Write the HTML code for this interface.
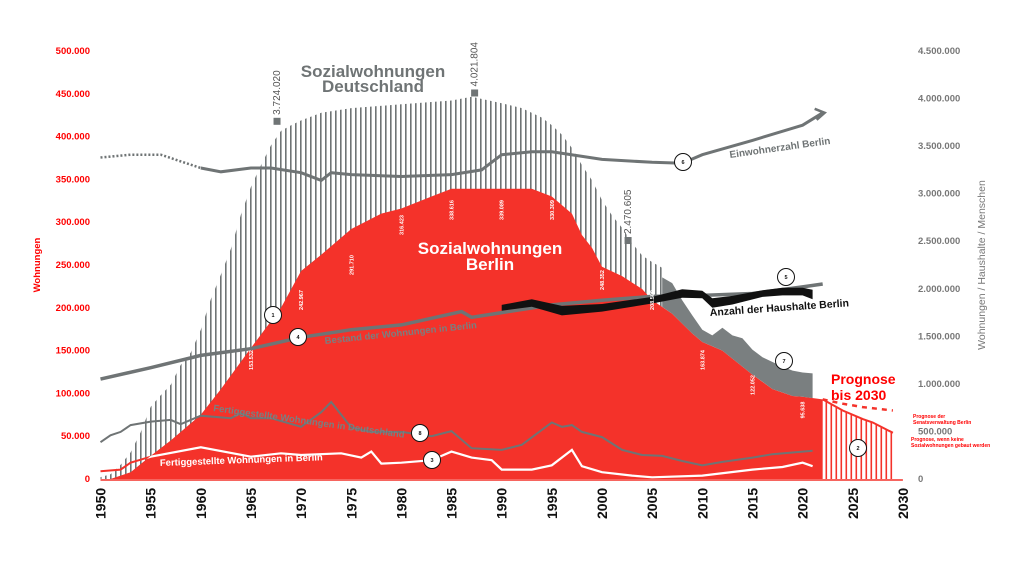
<!DOCTYPE html>
<html><head><meta charset="utf-8"><style>
html,body{margin:0;padding:0;background:#fff;}
svg{display:block;font-family:"Liberation Sans",sans-serif;}
</style></head><body>
<svg id="chart" width="1024" height="573" viewBox="0 0 1024 573" xmlns="http://www.w3.org/2000/svg">
<defs>
<pattern id="hatchGrey" patternUnits="userSpaceOnUse" width="5" height="10"><rect x="0" y="0" width="1.6" height="10" fill="#6f7475"/></pattern>
<pattern id="hatchRed" patternUnits="userSpaceOnUse" width="5" height="10" x="0.5"><rect x="0" y="0" width="1.6" height="10" fill="#f4322a"/></pattern>
<clipPath id="redClip"><path id="redClipPath"/></clipPath>
</defs>
<g id="layer"></g>
</svg>
<script>
// ---------- data ----------
const xTicks=[1950,1955,1960,1965,1970,1975,1980,1985,1990,1995,2000,2005,2010,2015,2020,2025,2030];
const leftTicks=[0,50000,100000,150000,200000,250000,300000,350000,400000,450000,500000];
const rightTicks=[0,500000,1000000,1500000,2000000,2500000,3000000,3500000,4000000,4500000];
// Sozialwohnungen Berlin (thousands)
const berlinYears=[1951,1953,1955,1957,1960,1962,1965,1968,1970,1972,1975,1978,1980,1983,1985,1990,1993,1995,1997,1998,1999,2000,2002,2004,2005,2007,2009,2010,2012,2015,2017,2019,2020,2022];
const berlinVals=[0,8,27,45,75,105,153,200,243,262,292,310,316,330,339,339,339,330,310,285,270,248,237,222,209,193,170,160,150,122,105,97,96,93];
// Prognose
const progYears=[2022,2024,2026,2027,2029];
const progVals=[93,80,70,66,54];
const dashYears=[2022,2024,2026,2029];
const dashVals=[93,88,84,80];
// Sozialwohnungen Deutschland (millions)
const deYears=[1950,1951,1952,1953,1954,1955,1956,1957,1958,1959,1960,1961,1962,1963,1964,1965,1966,1967,1968,1969,1970,1972,1975,1980,1985,1987,1990,1992,1994,1995,1996,1997,1998,1999,2000,2001,2002,2003,2004,2005,2006];
const deVals=[0.02,0.05,0.15,0.28,0.49,0.76,0.88,0.99,1.2,1.33,1.57,1.89,2.15,2.42,2.78,3.07,3.3,3.51,3.66,3.72,3.77,3.85,3.9,3.94,3.98,4.02,3.95,3.9,3.8,3.72,3.62,3.48,3.3,3.14,2.93,2.77,2.64,2.48,2.35,2.28,2.22];
const deSolidYears=[2006,2007,2008,2009,2010,2011,2012,2013,2014,2015,2016,2017,2018,2019,2020,2021];
const deSolidVals=[2.12,2.06,1.88,1.72,1.57,1.51,1.59,1.51,1.48,1.36,1.28,1.23,1.18,1.14,1.12,1.11];
// Einwohnerzahl Berlin (millions)
const popYears=[1950,1953,1956,1960,1962,1965,1967,1970,1972,1973,1975,1980,1985,1988,1990,1993,1995,2000,2005,2008,2010,2015,2020,2022];
const popVals=[3.38,3.41,3.41,3.27,3.23,3.27,3.27,3.22,3.14,3.22,3.2,3.18,3.2,3.25,3.41,3.44,3.44,3.36,3.33,3.32,3.41,3.56,3.72,3.85];
// Bestand der Wohnungen Berlin (millions)
const stockYears=[1950,1955,1960,1965,1970,1975,1980,1986,1987,1990,1995,2000,2005,2010,2015,2020,2022];
const stockVals=[1.05,1.17,1.3,1.37,1.49,1.57,1.62,1.76,1.7,1.75,1.83,1.88,1.92,1.93,1.95,2.02,2.05];
// Haushalte Berlin (millions) center and thickness
const hhYears=[1990,1993,1996,2000,2005,2008,2010,2011,2013,2016,2018,2020,2021];
const hhVals=[1.8,1.85,1.77,1.8,1.88,1.95,1.94,1.85,1.88,1.95,1.97,1.97,1.94];
const hhWidth=[0.06,0.08,0.1,0.08,0.07,0.09,0.08,0.1,0.09,0.07,0.08,0.08,0.1];
// Fertiggestellte Wohnungen Deutschland (left-scale equivalent, thousands)
const fdYears=[1950,1951,1952,1953,1955,1957,1958,1960,1963,1964,1965,1967,1970,1972,1973,1975,1977,1980,1983,1985,1987,1990,1992,1995,1996,1997,1998,2000,2002,2004,2006,2008,2010,2012,2015,2017,2020,2021];
const fdVals=[43,51,55,63,67,69,64,74,71,77,71,71,61,78,90,60,55,55,50,56,36,34,40,66,61,63,55,49,34,28,27,21,16,20,25,29,32,33];
// Fertiggestellte Wohnungen Berlin (thousands)
const fbYears=[1950,1952,1953,1955,1960,1965,1968,1970,1974,1976,1977,1978,1980,1983,1985,1987,1989,1990,1993,1995,1997,1998,2000,2003,2005,2010,2015,2018,2020,2021];
const fbVals=[9,11,19,26,37,26,30,28,30,25,32,18,19,22,32,25,22,11,11,16,34,15,8,4,2,4,11,14,19,15];

// ---------- scales ----------
const X=y=>100.5+(y-1950)*10.03;
const Y0=479, PX=428/500;         // px per thousand
const YL=v=>Y0-v*PX;              // v in thousands (left)
const YR=m=>Y0-m*1000/9*PX;       // m in millions (right)
const svg=document.getElementById('layer');
const NS='http://www.w3.org/2000/svg';
function mk(tag,attrs,parent){const e=document.createElementNS(NS,tag);for(const k in attrs)e.setAttribute(k,attrs[k]);(parent||svg).appendChild(e);return e;}
function line(xs,ys,fy){return xs.map((x,i)=>(i?'L':'M')+X(x).toFixed(1)+','+fy(ys[i]).toFixed(1)).join('');}
function txt(s,attrs,parent){const e=mk('text',attrs,parent);e.textContent=s;return e;}

// grey hatched Deutschland
let p=mk('path',{d:line(deYears,deVals,YR)+'L'+X(2006)+','+Y0+'L'+X(1950)+','+Y0+'Z',fill:'url(#hatchGrey)'});

// markers
[[1967.6,3.724,'3.724.020'],[1987.3,4.0218,'4.021.804'],[2002.6,2.4706,'2.470.605']].forEach(m=>{
 const r=mk('rect',{x:X(m[0])-3.5,y:YR(m[1])-7,width:7,height:7,fill:'#6f7475'});
 
 const t=txt(m[2],{x:X(m[0])+3,y:YR(m[1])-10,'font-size':10,fill:'#555',transform:`rotate(-90 ${X(m[0])+3} ${YR(m[1])-10})`});
 
});
// red area Berlin
const redD=line(berlinYears,berlinVals,YL)+'L'+X(2022)+','+Y0+'L'+X(1951)+','+Y0+'Z';
document.getElementById('redClipPath').setAttribute('d',redD);
p=mk('path',{d:redD,fill:'#f4322a'});

// grey solid area 2006-2021 (top = deSolid, bottom = berlin)
const bAt=y=>{for(let i=1;i<berlinYears.length;i++){if(y<=berlinYears[i]){const t=(y-berlinYears[i-1])/(berlinYears[i]-berlinYears[i-1]);return berlinVals[i-1]+t*(berlinVals[i]-berlinVals[i-1]);}}return berlinVals[berlinVals.length-1];};
let gd=line(deSolidYears,deSolidVals,YR);
for(let i=deSolidYears.length-1;i>=0;i--)gd+='L'+X(deSolidYears[i]).toFixed(1)+','+YL(bAt(deSolidYears[i])).toFixed(1);
p=mk('path',{d:gd+'Z',fill:'#7a7f80'});

// Prognose hatch
p=mk('path',{d:line(progYears,progVals,YL)+'L'+X(2029)+','+Y0+'L'+X(2022)+','+Y0+'Z',fill:'url(#hatchRed)'});

p=mk('path',{d:line(progYears,progVals,YL),fill:'none',stroke:'#f4322a','stroke-width':2});

p=mk('path',{d:line(dashYears,dashVals,YL),fill:'none',stroke:'#f4322a','stroke-width':2.5,'stroke-dasharray':'5 5'});


// Fertig Deutschland
p=mk('path',{d:line(fdYears,fdVals,YL),fill:'none',stroke:'#6f7475','stroke-width':2});

// Fertig Berlin: red outside, white inside area
p=mk('path',{d:line(fbYears,fbVals,YL),fill:'none',stroke:'#f4322a','stroke-width':2});

p=mk('path',{d:line(fbYears,fbVals,YL),fill:'none',stroke:'#fff','stroke-width':2.2,'clip-path':'url(#redClip)'});

// Bestand
p=mk('path',{d:line(stockYears,stockVals,YR),fill:'none',stroke:'#6f7475','stroke-width':3.5});

// Haushalte band
let hd='';hhYears.forEach((y,i)=>hd+=(i?'L':'M')+X(y).toFixed(1)+','+YR(hhVals[i]+hhWidth[i]/2).toFixed(1));
for(let i=hhYears.length-1;i>=0;i--)hd+='L'+X(hhYears[i]).toFixed(1)+','+YR(hhVals[i]-hhWidth[i]/2).toFixed(1);
p=mk('path',{d:hd+'Z',fill:'#111'});

// Einwohner
const dotN=popYears.indexOf(1960)+1;
p=mk('path',{d:line(popYears.slice(0,dotN),popVals.slice(0,dotN),YR),fill:'none',stroke:'#6f7475','stroke-width':2.5,'stroke-dasharray':'2 2'});

p=mk('path',{d:line(popYears.slice(dotN-1),popVals.slice(dotN-1),YR),fill:'none',stroke:'#6f7475','stroke-width':3});

p=mk('path',{d:`M${X(2022)-8},${YR(3.85)-4}L${X(2022)+2},${YR(3.85)}L${X(2022)-6},${YR(3.85)+7}`,fill:'none',stroke:'#6f7475','stroke-width':2.5});


// axes baseline
p=mk('line',{x1:X(1950),x2:X(2030),y1:Y0+1,y2:Y0+1,stroke:'#f4322a','stroke-width':1.5});

xTicks.forEach(y=>{const cx=X(y),cy=519;
 const t=txt(y,{x:cx+5,y:cy,'font-size':14,'font-weight':'bold',fill:'#111','text-anchor':'start',transform:`rotate(-90 ${cx+5} ${cy})`});
 });
const fmt=v=>v===0?'0':v.toLocaleString('de-DE');
leftTicks.forEach(v=>{const t=txt(fmt(v),{x:90,y:YL(v/1000)+3,'font-size':9.5,'font-weight':'bold',fill:'#f00','text-anchor':'end'});
 });
rightTicks.forEach(v=>{const t=txt(fmt(v),{x:v===0?918:918,y:YR(v/1e6)+3,'font-size':9.5,'font-weight':'bold',fill:'#777','text-anchor':'start'});
 });
let t=txt('Wohnungen',{x:40,y:265,'font-size':9.5,'font-weight':'bold',fill:'#f00','text-anchor':'middle',transform:'rotate(-90 40 265)'});

t=txt('Wohnungen / Haushalte / Menschen',{x:985,y:265,'font-size':10.5,fill:'#777','text-anchor':'middle',transform:'rotate(-90 985 265)'});


// titles
t=txt('Sozialwohnungen',{x:373,y:77,'font-size':17,'font-weight':'bold',fill:'#6f7475','text-anchor':'middle'});
t=txt('Deutschland',{x:373,y:92,'font-size':17,'font-weight':'bold',fill:'#6f7475','text-anchor':'middle'});
t=txt('Sozialwohnungen',{x:490,y:254,'font-size':17,'font-weight':'bold',fill:'#fff','text-anchor':'middle'});
t=txt('Berlin',{x:490,y:270,'font-size':17,'font-weight':'bold',fill:'#fff','text-anchor':'middle'});
t=txt('Prognose',{x:831,y:384,'font-size':14,'font-weight':'bold',fill:'#f00'});
t=txt('bis 2030',{x:831,y:400,'font-size':14,'font-weight':'bold',fill:'#f00'});
t=txt('Einwohnerzahl Berlin',{x:730,y:158,'font-size':10,'font-weight':'bold',fill:'#6f7475',transform:'rotate(-8 730 158)'});
t=txt('Anzahl der Haushalte Berlin',{x:710,y:316,'font-size':10.5,'font-weight':'bold',fill:'#111',transform:'rotate(-4 710 316)'});
t=txt('Bestand der Wohnungen in Berlin',{x:325,y:344,'font-size':9.5,'font-weight':'bold',fill:'#7a7f80',transform:'rotate(-6 325 344)'});
t=txt('Fertiggestellte Wohnungen in Deutschland',{x:213,y:411,'font-size':9.5,'font-weight':'bold',fill:'#7a7f80',transform:'rotate(8 213 411)'});
t=txt('Fertiggestellte Wohnungen in Berlin',{x:160,y:466,'font-size':9.5,'font-weight':'bold',fill:'#fff',transform:'rotate(-2 160 466)'});
t=txt('Prognose der',{x:913,y:418,'font-size':5,'font-weight':'bold',fill:'#f00'});
t=txt('Senatsverwaltung Berlin',{x:913,y:424,'font-size':5,'font-weight':'bold',fill:'#f00'});
t=txt('Prognose, wenn keine',{x:911,y:441,'font-size':5,'font-weight':'bold',fill:'#f00'});
t=txt('Sozialwohnungen gebaut werden',{x:911,y:447,'font-size':5,'font-weight':'bold',fill:'#f00'});

// small value labels on red area
const valLabels=[[1965,'153.532',360],[1970,'242.967',300],[1975,'291.710',265],[1980,'316.423',225],[1985,'338.616',210],[1990,'339.089',210],[1995,'330.309',210],[2000,'248.352',280],[2005,'208.509',300],[2010,'163.874',360],[2015,'122.052',385],[2020,'95.638',410]];
valLabels.forEach(v=>{const e=txt(v[1],{x:X(v[0])+2,y:v[2],'font-size':5.5,'font-weight':'bold',fill:'#fff','text-anchor':'middle',transform:`rotate(-90 ${X(v[0])+2} ${v[2]})`});
 });

// numbered circles
[[273,315,'1'],[858,448,'2'],[432,460,'3'],[298,337,'4'],[786,277,'5'],[683,162,'6'],[784,361,'7'],[420,433,'8']].forEach(c=>{
 const ci=mk('circle',{cx:c[0],cy:c[1],r:8.5,fill:'#fff',stroke:'#111','stroke-width':1});
 
 const e=txt(c[2],{x:c[0],y:c[1]+2,'font-size':5.5,'font-weight':'bold',fill:'#111','text-anchor':'middle'});
 
});
</script>
</body></html>
